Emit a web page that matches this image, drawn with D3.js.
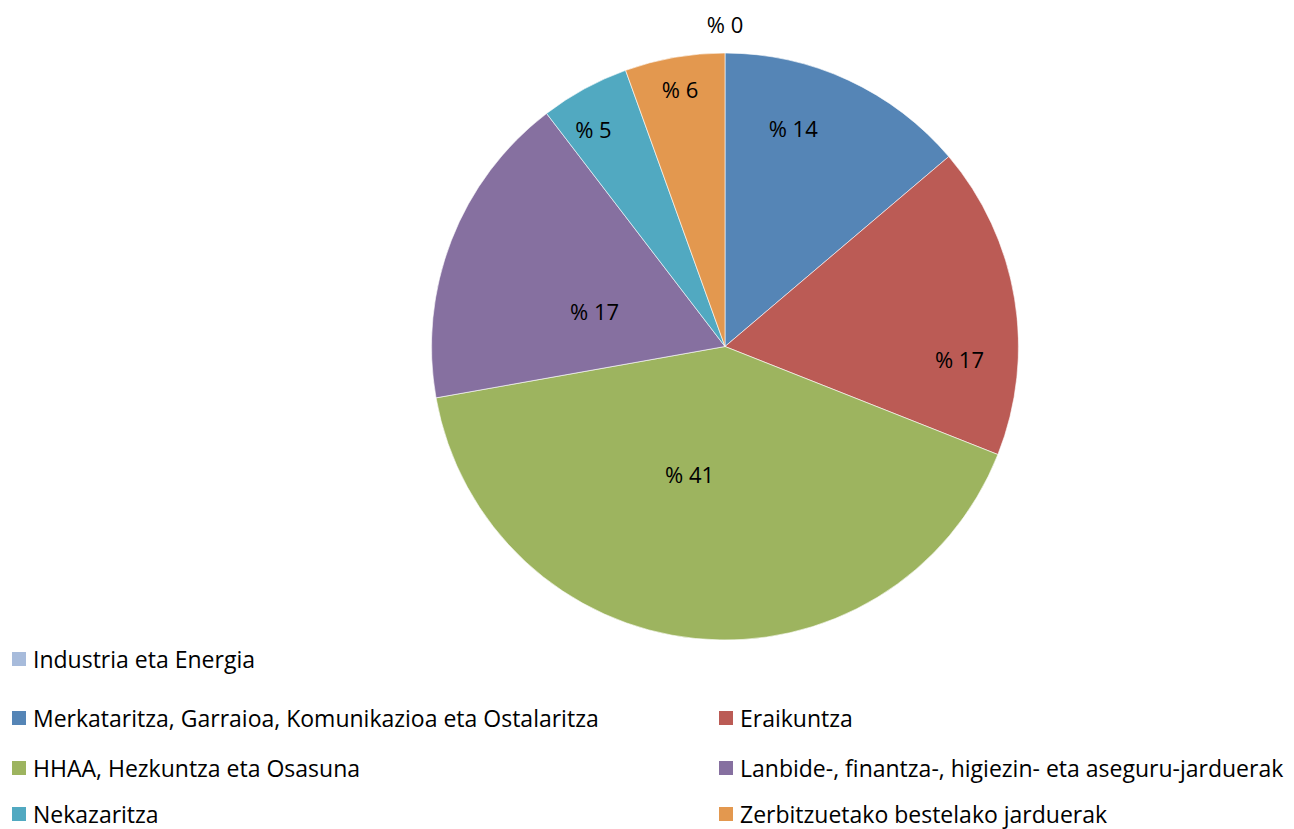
<!DOCTYPE html>
<html>
<head>
<meta charset="utf-8">
<script src="https://cdn.jsdelivr.net/npm/d3@7"></script>
<style>
  html, body { margin: 0; padding: 0; background: #fff; }
  svg { display: block; }
  text { font-family: "Open Sans", "Lato", sans-serif; fill: #000; }
</style>
</head>
<body>
<svg id="chart" width="1294" height="829"></svg>
<script>
// ---- data ----
const categories = [
  "Industria eta Energia",
  "Merkataritza, Garraioa, Komunikazioa eta Ostalaritza",
  "Eraikuntza",
  "HHAA, Hezkuntza eta Osasuna",
  "Lanbide-, finantza-, higiezin- eta aseguru-jarduerak",
  "Nekazaritza",
  "Zerbitzuetako bestelako jarduerak"
];
const values = [0, 13.8, 17.2, 41.2, 17.4, 4.9, 5.5];
const labelTexts = ["% 0", "% 14", "% 17", "% 41", "% 17", "% 5", "% 6"];

// ---- style / layout ----
const colors = ["#a7bbdb", "#5585b6", "#bb5b55", "#9db45f", "#8670a0", "#51a9c1", "#e3984f"];
const labelRadiusFrac = [1.10, 0.78, 0.80, 0.45, 0.46, 0.865, 0.89];
const labelAngleShift = [0, -7.5, 12.5, 9.8, -6.2, -2.6, 0];
// legend: [column, row]
const legendSlots = [[0, 0], [0, 1], [1, 1], [0, 2], [1, 2], [0, 3], [1, 3]];
const legendColX = [12, 719];
const legendRowY = [659, 718, 768, 814];

const svg = d3.select("#chart");
const cx = 725, cy = 346.5, R = 293.5;

const pie = d3.pie().sort(null).value(d => d)(values);
const arc = d3.arc().innerRadius(0).outerRadius(R);

const g = svg.append("g").attr("transform", `translate(${cx},${cy})`);
g.selectAll("path.slice")
  .data(pie.filter(d => d.value > 0))
  .join("path")
  .attr("class", "slice")
  .attr("d", arc)
  .attr("fill", d => colors[d.index])
  .attr("stroke", "#fff")
  .attr("stroke-width", 0.6);

g.selectAll("text.lbl")
  .data(pie)
  .join("text")
  .attr("class", "lbl")
  .attr("text-anchor", "middle")
  .attr("dominant-baseline", "central")
  .attr("font-size", 22)
  .attr("x", (d, i) => {
    const a = (d.startAngle + d.endAngle) / 2 + labelAngleShift[i] * Math.PI / 180;
    return Math.sin(a) * R * labelRadiusFrac[i];
  })
  .attr("y", (d, i) => {
    const a = (d.startAngle + d.endAngle) / 2 + labelAngleShift[i] * Math.PI / 180;
    return -Math.cos(a) * R * labelRadiusFrac[i];
  })
  .text((d, i) => labelTexts[i]);

// legend
const lg = svg.append("g");
const items = lg.selectAll("g.item")
  .data(categories)
  .join("g")
  .attr("class", "item")
  .attr("transform", (d, i) => `translate(${legendColX[legendSlots[i][0]]},${legendRowY[legendSlots[i][1]]})`);
items.append("rect")
  .attr("x", 0).attr("y", -7).attr("width", 14).attr("height", 14)
  .attr("fill", (d, i) => colors[i]);
items.append("text")
  .attr("x", 21)
  .attr("y", 0)
  .attr("dominant-baseline", "central")
  .attr("font-size", 23)
  .text(d => d);
</script>
</body>
</html>
